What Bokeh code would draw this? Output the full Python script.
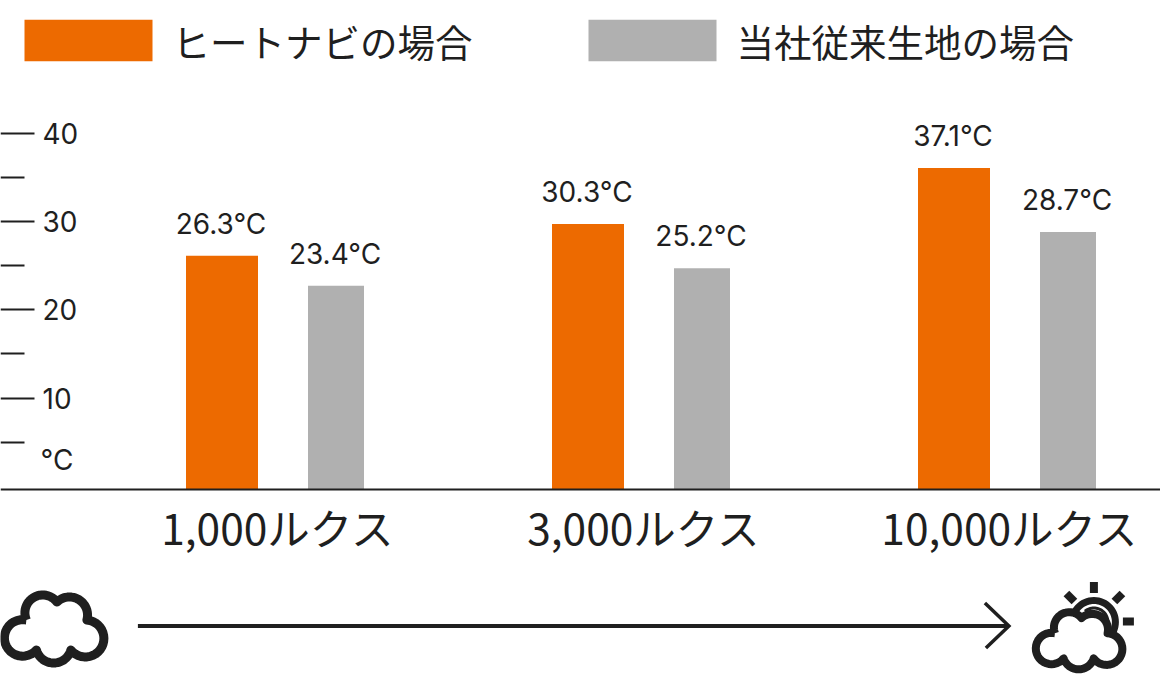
import math
from bokeh.embed import file_html
from bokeh.resources import INLINE
from bokeh.plotting import figure
from bokeh.core.properties import value
from bokeh.models import (ColumnDataSource, FixedTicker, Legend, LegendItem,
                          LinearAxis, Range1d)

# ---- data ----
groups = ["1,000ルクス", "3,000ルクス", "10,000ルクス"]
series_names = ["ヒートナビの場合", "当社従来生地の場合"]
heatnavi_bars = [26.1, 29.7, 36.05]
standard_bars = [22.7, 24.7, 28.8]
heatnavi_labels = ["26.3°C", "30.3°C", "37.1°C"]
standard_labels = ["23.4°C", "25.2°C", "28.7°C"]
y_ticks = [10, 20, 30, 40]
y_minor = [5, 15, 25, 35]
unit_label = "°C"

# ---- layout ----
W, H = 1160, 694
PX_X = 366.0       # pixels per group
PX_Y = 8.83        # pixels per degree
X0_PX = 277.5      # pixel of group 0
Y0_PX = 485.8      # pixel of 0 degrees
BASE = -0.4        # the baseline sits just below 0
ORANGE, GREY, INK = "#ed6a00", "#b0b0b0", "#1f1f1f"
NUM_FONT = "Inter"
JP_FONT = "Noto Sans CJK JP"

def X(px): return (px - X0_PX) / PX_X
def Y(py): return (Y0_PX - py) / PX_Y
def IX(px): return X(px - 0.6)
def IY(py): return Y(py - 0.5)

p = figure(width=W, height=H, output_backend="svg", toolbar_location=None,
           x_range=Range1d(X(0), X(W)), y_range=Range1d(Y(H), Y(0)),
           min_border=0, outline_line_color=None, x_axis_type=None, y_axis_type=None)
p.styles = {"position": "absolute", "left": "0px", "top": "0px"}
p.grid.visible = False

idx = list(range(len(groups)))
src_a = ColumnDataSource(dict(x=[i - 56 / PX_X for i in idx], top=heatnavi_bars, lab=heatnavi_labels))
src_b = ColumnDataSource(dict(x=[i + 58 / PX_X for i in idx], top=standard_bars, lab=standard_labels))
r_a = p.vbar(x="x", top="top", bottom=BASE, width=72 / PX_X, fill_color=ORANGE, line_color=None, source=src_a)
r_b = p.vbar(x="x", top="top", bottom=BASE, width=56 / PX_X, fill_color=GREY, line_color=None, source=src_b)

for src in (src_a, src_b):
    p.text(x="x", y="top", text="lab", source=src, text_align="center", text_baseline="alphabetic",
           text_font=value(NUM_FONT), text_font_size="28px", text_color=INK, y_offset=-32, x_offset=-1)

p.text(x=[X(40)], y=[Y(459.5)], text=[unit_label], text_align="left", text_baseline="alphabetic",
       text_font=value(NUM_FONT), text_font_size="28px", text_color=INK)

# tick labels sit to the right of the ticks, left aligned
p.text(x=[X(42)] * len(y_ticks), y=y_ticks, text=[str(t) for t in y_ticks], text_align="left",
       text_baseline="middle", text_font=value(NUM_FONT), text_font_size="28px", text_color=INK)

# axes
xa = LinearAxis(ticker=FixedTicker(ticks=idx), fixed_location=BASE)
xa.major_label_overrides = {i: g for i, g in zip(idx, groups)}
xa.major_tick_line_color = None
xa.minor_tick_line_color = None
xa.axis_line_color = INK
xa.axis_line_width = 2
xa.major_label_standoff = 0
xa.major_label_text_font = JP_FONT
xa.major_label_text_font_size = "42.5px"
xa.major_label_text_color = INK
p.add_layout(xa, "below")

ya = LinearAxis(ticker=FixedTicker(ticks=y_ticks, minor_ticks=y_minor), fixed_location=X(0))
ya.axis_line_color = None
ya.major_tick_out = 0
ya.major_tick_in = 34
ya.minor_tick_out = 0
ya.minor_tick_in = 24
ya.major_tick_line_color = INK
ya.minor_tick_line_color = INK
ya.major_tick_line_width = 2
ya.minor_tick_line_width = 2
ya.major_label_overrides = {t: "" for t in y_ticks}
p.add_layout(ya, "left")

# legend
legend = Legend(items=[LegendItem(label=series_names[0], renderers=[r_a]),
                       LegendItem(label=series_names[1], renderers=[r_b])],
                orientation="horizontal", location=(7.5, 626.5), padding=0, margin=0,
                background_fill_alpha=0, border_line_color=None,
                glyph_width=160, glyph_height=52, label_height=46, label_standoff=5,
                spacing=99, label_text_font=JP_FONT, label_text_font_size="37.5px",
                label_text_color=INK, label_text_baseline="middle")
p.add_layout(legend, "center")

# ---- decorative icons and arrow, in picture pixels ----
def arc3(a, b, c, n=24):
    (ax, ay), (bx, by), (cx, cy) = a, b, c
    d = 2 * (ax * (by - cy) + bx * (cy - ay) + cx * (ay - by))
    ux = ((ax**2 + ay**2) * (by - cy) + (bx**2 + by**2) * (cy - ay) + (cx**2 + cy**2) * (ay - by)) / d
    uy = ((ax**2 + ay**2) * (cx - bx) + (bx**2 + by**2) * (ax - cx) + (cx**2 + cy**2) * (bx - ax)) / d
    r = math.hypot(ax - ux, ay - uy)
    t0 = math.atan2(ay - uy, ax - ux)
    t1 = math.atan2(by - uy, bx - ux)
    t2 = math.atan2(cy - uy, cx - ux)
    def ccw(s, e): return (e - s) % (2 * math.pi)
    if ccw(t0, t1) < ccw(t0, t2):
        span = ccw(t0, t2)
    else:
        span = -((t0 - t2) % (2 * math.pi))
    return [(ux + r * math.cos(t0 + span * i / n), uy + r * math.sin(t0 + span * i / n)) for i in range(n + 1)]

CLOUD = [
    ((26.5, 620), (42, 595), (57, 602)),
    ((57, 602), (70, 597), (87, 620)),
    ((87, 620), (104, 638), (71, 650)),
    ((71, 650), (53, 663), (36.5, 650)),
    ((36.5, 650), (4.5, 638), (26.5, 620)),
]
def cloud(tx, lw):
    pts = []
    for a, b, c in CLOUD:
        pts += arc3(tx(a), tx(b), tx(c))
    pts.append(pts[0])
    xs, ys = [IX(q[0]) for q in pts], [IY(q[1]) for q in pts]
    p.patch(xs, ys, fill_color="white", line_color=None)
    p.line(xs, ys, line_color=INK, line_width=lw, line_join="round")

def stroke(pts, lw, cap="butt"):
    p.line([IX(q[0]) for q in pts], [IY(q[1]) for q in pts], line_color=INK, line_width=lw,
           line_cap=cap, line_join="miter")

stroke([(138, 626), (1008, 626)], 4)
stroke([(985, 603), (1009, 626), (986, 648)], 3.5)

def sun_arc(r, a0, a1, lw):
    pts = [(1094 + r * math.cos(math.radians(a0 + (a1 - a0) * i / 30)),
            622 - r * math.sin(math.radians(a0 + (a1 - a0) * i / 30))) for i in range(31)]
    stroke(pts, lw)
sun_arc(21.5, 150, -30, 7)
sun_arc(14, 130, -20, 3)
stroke([(1094, 582), (1094, 593)], 8)
stroke([(1123, 621.5), (1134, 621.5)], 8)
stroke([(1066.5, 593.5), (1074.5, 601.5)], 8)
stroke([(1122.5, 593.5), (1114.5, 601.5)], 8)

cloud(lambda q: q, 9)
cloud(lambda q: (1032 + 0.87 * q[0], 608 + 0.84 * (q[1] - 590)), 8)

open("out.html", "w").write(file_html(p, INLINE))
